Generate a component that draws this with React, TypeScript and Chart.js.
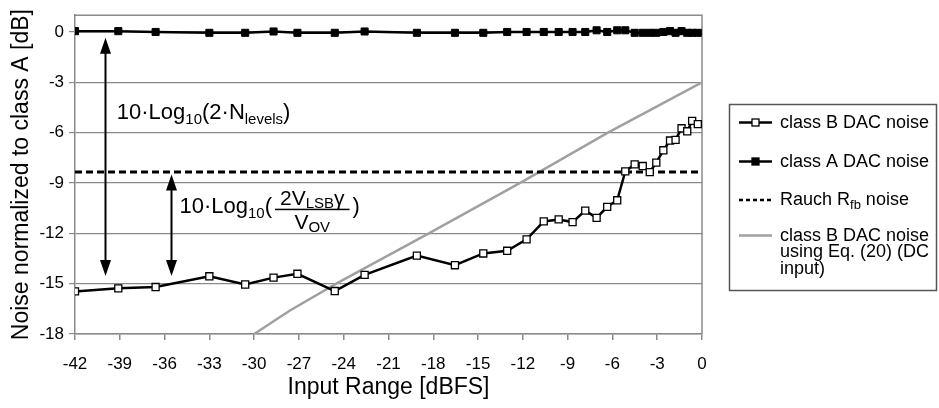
import React, { useEffect, useRef } from 'react';
import { Chart, registerables } from 'chart.js';

Chart.register(...registerables);

const FONT = '"Liberation Sans", Arial, Helvetica, sans-serif';

// ---- data ----
const INPUT_RANGE = [
  -42, -39.1, -36.6, -33.0, -30.6, -28.7, -27.1, -24.6, -22.6, -19.1, -16.55,
  -14.65, -13.05, -11.75, -10.6, -9.6, -8.67, -7.82, -7.06, -6.35, -5.68, -5.14,
  -4.51, -3.97, -3.5, -3.06, -2.59, -2.14, -1.77, -1.37, -0.99, -0.66, -0.28,
];
const CLASS_B_NOISE = [
  -15.46, -15.28, -15.2, -14.56, -15.05, -14.64, -14.41, -15.44, -14.48, -13.33,
  -13.9, -13.2, -13.04, -12.36, -11.29, -11.17, -11.33, -10.65, -11.08, -10.42,
  -10.03, -8.31, -7.89, -7.99, -8.35, -7.79, -7.05, -6.47, -6.43, -5.74, -5.92,
  -5.3, -5.49,
];
const CLASS_A_NOISE = [
  0.05, 0.05, 0, -0.05, -0.05, 0.03, -0.05, -0.05, 0.03, -0.05, -0.05, -0.05, 0,
  0, 0, 0, 0, 0, 0.1, 0, 0.1, 0.1, -0.05, -0.05, -0.05, -0.05, 0, 0.05, -0.05,
  0.05, -0.05, -0.05, -0.05,
];
const EQ20_X = [-30, -27.6, -24.5, -18.3, -12, -6.3, 0];
const EQ20_Y = [-18, -16.6, -15.0, -12.0, -8.9, -6.0, -3.0];
const RAUCH_X = [-42, 0];
const RAUCH_Y = [-8.35, -8.35];

const X_MIN = -42;
const X_MAX = 0;
const Y_MIN = -18;
const Y_MAX = 1;
const TICK_STEP = 3;

const LEGEND_LABELS = [
  'class B DAC noise',
  'class A DAC noise',
  'Rauch R|fb| noise',
  'class B DAC noise\nusing Eq. (20) (DC\ninput)',
];

// annotation arrows (data units)
const ARROW_X = [-40, -35.6];
const ARROW_FROM = [-0.34, -8.5];
const ARROW_TO = [-14.55, -14.55];
// annotation text anchors (data units: x start, baseline y)
const NOTE1_AT = [-39.2, -5.2];
const NOTE2_AT = [-35.0, -10.8];

const GRID = '#8a8a8a';

type Part = { t: string; s: number; dy?: number };

function drawRich(ctx: CanvasRenderingContext2D, x: number, y: number, parts: Part[], draw = true) {
  let cx = x;
  for (const p of parts) {
    ctx.font = `${p.s}px ${FONT}`;
    if (draw) ctx.fillText(p.t, cx, y + (p.dy || 0));
    cx += ctx.measureText(p.t).width;
  }
  return cx - x;
}

function drawArrowHead(ctx: CanvasRenderingContext2D, x: number, tipY: number, dir: number) {
  const len = 16;
  const hw = 5.5;
  ctx.beginPath();
  ctx.moveTo(x, tipY);
  ctx.lineTo(x - hw, tipY + dir * len);
  ctx.lineTo(x + hw, tipY + dir * len);
  ctx.closePath();
  ctx.fill();
}

function parseLabel(label: string): Part[] {
  // segments between | are subscripts
  const segs = label.split('|');
  return segs.filter((s) => s.length).map((t, i) => (i % 2 === 1 ? { t, s: 13, dy: 4 } : { t, s: 18 }));
}

const overlay = {
  id: 'overlay',
  beforeDatasetsDraw(chart: any) {
    const { ctx, chartArea } = chart;
    ctx.save();
    ctx.strokeStyle = GRID;
    ctx.lineWidth = 1.5;
    ctx.beginPath();
    ctx.moveTo(chartArea.left, chartArea.top);
    ctx.lineTo(chartArea.right, chartArea.top);
    ctx.lineTo(chartArea.right, chartArea.bottom);
    ctx.stroke();
    ctx.restore();
  },
  afterDatasetsDraw(chart: any) {
    const { ctx } = chart;
    const xs = chart.scales.x;
    const ys = chart.scales.y;
    ctx.save();
    ctx.fillStyle = '#000';
    ctx.strokeStyle = '#000';
    ctx.lineWidth = 2;
    ARROW_X.forEach((ax, i) => {
      const x = Math.round(xs.getPixelForValue(ax)) + 0.5;
      const y1 = ys.getPixelForValue(ARROW_FROM[i]);
      const y2 = ys.getPixelForValue(ARROW_TO[i]);
      ctx.beginPath();
      ctx.moveTo(x, y1 + 10);
      ctx.lineTo(x, y2 - 10);
      ctx.stroke();
      drawArrowHead(ctx, x, y1, 1);
      drawArrowHead(ctx, x, y2, -1);
    });

    ctx.textBaseline = 'alphabetic';
    ctx.textAlign = 'left';
    // note 1
    const n1x = xs.getPixelForValue(NOTE1_AT[0]);
    const n1y = ys.getPixelForValue(NOTE1_AT[1]);
    drawRich(ctx, n1x, n1y, [
      { t: '10·Log', s: 22 },
      { t: '10', s: 15, dy: 5 },
      { t: '(2·N', s: 22 },
      { t: 'levels', s: 15, dy: 5 },
      { t: ')', s: 22 },
    ]);
    // note 2
    const n2x = xs.getPixelForValue(NOTE2_AT[0]);
    const n2y = ys.getPixelForValue(NOTE2_AT[1]);
    let cx = n2x;
    cx += drawRich(ctx, cx, n2y, [
      { t: '10·Log', s: 22 },
      { t: '10', s: 15, dy: 5 },
      { t: '(', s: 22 },
    ]);
    cx += 3;
    const num: Part[] = [
      { t: '2V', s: 21 },
      { t: 'LSB', s: 15, dy: 3 },
      { t: 'γ', s: 21 },
    ];
    const den: Part[] = [
      { t: 'V', s: 21 },
      { t: 'OV', s: 15, dy: 3 },
    ];
    const wn = drawRich(ctx, 0, 0, num, false);
    const wd = drawRich(ctx, 0, 0, den, false);
    const w = Math.max(wn, wd) + 10;
    drawRich(ctx, cx + (w - wn) / 2, n2y - 8, num);
    drawRich(ctx, cx + (w - wd) / 2, n2y + 16, den);
    ctx.fillRect(cx, n2y - 4.5, w, 1.5);
    cx += w + 3;
    drawRich(ctx, cx, n2y, [{ t: ')', s: 22 }]);
    ctx.restore();
  },
  afterDraw(chart: any) {
    const { ctx } = chart;
    ctx.save();
    // legend box
    ctx.strokeStyle = '#555';
    ctx.lineWidth = 1.5;
    ctx.strokeRect(729.5, 104.5, 207, 186);

    const ds = chart.data.datasets;
    const symY = [122.5, 161.5, 200, 235.5];
    const x0 = 739;
    const x1 = 772;
    const tx = 780;
    ctx.textBaseline = 'alphabetic';
    ctx.textAlign = 'left';
    ctx.fillStyle = '#000';
    LEGEND_LABELS.forEach((label, i) => {
      const d = ds[i];
      const y = symY[i];
      ctx.save();
      ctx.strokeStyle = d.borderColor;
      ctx.lineWidth = d.legendWidth || d.borderWidth;
      ctx.setLineDash(d.legendDash || []);
      ctx.beginPath();
      ctx.moveTo(x0, y);
      ctx.lineTo(x1, y);
      ctx.stroke();
      ctx.restore();
      if (d.pointRadius > 0) {
        const s = 7;
        const mx = (x0 + x1) / 2;
        ctx.fillStyle = d.pointBackgroundColor;
        ctx.fillRect(mx - s / 2, y - s / 2, s, s);
        ctx.strokeStyle = d.pointBorderColor;
        ctx.lineWidth = 1.3;
        ctx.strokeRect(mx - s / 2, y - s / 2, s, s);
      }
      ctx.fillStyle = '#000';
      label.split('\n').forEach((line, j) => {
        drawRich(ctx, tx, y + 5 + j * 16.5, parseLabel(line));
      });
    });
    ctx.restore();
  },
};

export default function App() {
  const ref = useRef<HTMLCanvasElement | null>(null);

  useEffect(() => {
    if (!ref.current) return;
    const toPts = (xs: number[], ys: number[]) => xs.map((x, i) => ({ x, y: ys[i] }));
    const chart = new Chart(ref.current, {
      type: 'scatter',
      data: {
        datasets: [
          {
            label: LEGEND_LABELS[0],
            data: toPts(INPUT_RANGE, CLASS_B_NOISE),
            showLine: true,
            borderColor: '#000',
            borderWidth: 2.5,
            pointStyle: 'rect',
            pointRadius: 5,
            pointBackgroundColor: '#fff',
            pointBorderColor: '#000',
            pointBorderWidth: 1.3,
            order: 1,
          } as any,
          {
            label: LEGEND_LABELS[1],
            data: toPts(INPUT_RANGE, CLASS_A_NOISE),
            showLine: true,
            borderColor: '#000',
            borderWidth: 2.5,
            pointStyle: 'rect',
            pointRadius: 5,
            pointBackgroundColor: '#000',
            pointBorderColor: '#000',
            pointBorderWidth: 1,
            order: 0,
          } as any,
          {
            label: LEGEND_LABELS[2],
            data: toPts(RAUCH_X, RAUCH_Y),
            showLine: true,
            borderColor: '#000',
            borderWidth: 3,
            borderDash: [7, 4],
            legendDash: [4, 3],
            legendWidth: 2.5,
            pointRadius: 0,
            order: 2,
          } as any,
          {
            label: LEGEND_LABELS[3],
            data: toPts(EQ20_X, EQ20_Y),
            showLine: true,
            borderColor: '#a0a0a0',
            borderWidth: 2.5,
            pointRadius: 0,
            order: 3,
          } as any,
        ],
      },
      options: {
        responsive: false,
        maintainAspectRatio: false,
        animation: false,
        layout: { padding: { left: 0, right: 237, top: 9, bottom: 0 } },
        plugins: { legend: { display: false }, tooltip: { enabled: false } },
        scales: {
          x: {
            type: 'linear',
            min: X_MIN,
            max: X_MAX,
            afterFit: (s: any) => {
              s.height = 74;
            },
            ticks: {
              stepSize: TICK_STEP,
              autoSkip: false,
              maxRotation: 0,
              padding: 14,
              color: '#000',
              font: { family: FONT, size: 17 },
            },
            grid: { drawOnChartArea: false, drawTicks: true, tickLength: 6, color: GRID, lineWidth: 1.5 },
            border: { display: true, color: GRID, width: 1.5 },
            title: {
              display: true,
              text: 'Input Range [dBFS]',
              color: '#000',
              font: { family: FONT, size: 23 },
              padding: { top: 0, bottom: 7 },
            },
          },
          y: {
            type: 'linear',
            min: Y_MIN,
            max: Y_MAX,
            afterFit: (s: any) => {
              s.width = 75;
            },
            afterBuildTicks: (s: any) => {
              s.ticks = s.ticks.filter((t: any) => t.value <= 0 && t.value % TICK_STEP === 0);
            },
            ticks: {
              stepSize: TICK_STEP,
              padding: 5,
              color: '#000',
              font: { family: FONT, size: 17 },
            },
            grid: { color: GRID, lineWidth: 1.2, tickLength: 6 },
            border: { display: true, color: GRID, width: 1.5 },
            title: {
              display: true,
              text: 'Noise normalized to class A [dB]',
              color: '#000',
              font: { family: FONT, size: 23 },
              padding: { top: 8, bottom: 0 },
            },
          },
        },
      } as any,
      plugins: [overlay],
    });
    return () => chart.destroy();
  }, []);

  return (
    <div style={{ position: 'fixed', left: 0, top: 0, width: 939, height: 408, background: '#fff' }}>
      <canvas ref={ref} width={939} height={408} style={{ display: 'block' }} />
    </div>
  );
}
